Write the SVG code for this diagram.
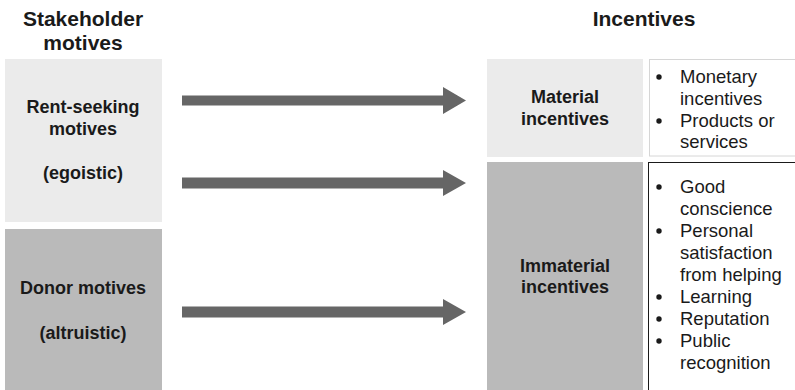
<svg xmlns="http://www.w3.org/2000/svg" width="795" height="390" viewBox="0 0 795 390">
  <style>
    .hdr { font-family: "Liberation Sans", Arial, sans-serif; font-weight: bold; font-size: 21px; fill: #1a1a1a; text-anchor: middle; }
    .lbl { font-family: "Liberation Sans", Arial, sans-serif; font-weight: bold; font-size: 18px; fill: #1a1a1a; text-anchor: middle; }
    .item { font-family: "Liberation Sans", Arial, sans-serif; font-size: 18.5px; fill: #1a1a1a; }
    .dot { fill: #1a1a1a; }
    .light { fill: #ebebeb; }
    .dark { fill: #bababa; }
    .arrow { fill: #666666; }
  </style>

  <rect width="795" height="390" fill="#ffffff"/>

  <!-- column headers -->
  <g id="header-motives">
    <text class="hdr" x="83" y="26">Stakeholder</text>
    <text class="hdr" x="83" y="50">motives</text>
  </g>
  <g id="header-incentives">
    <text class="hdr" x="644" y="26">Incentives</text>
  </g>

  <!-- motive boxes -->
  <g id="rent-seeking">
    <rect class="light" x="5" y="59" width="157" height="163"/>
    <text class="lbl" x="83" y="113">Rent-seeking</text>
    <text class="lbl" x="83" y="135">motives</text>
    <text class="lbl" x="83" y="179">(egoistic)</text>
  </g>
  <g id="donor">
    <rect class="dark" x="5" y="229" width="157" height="161"/>
    <text class="lbl" x="83" y="294">Donor motives</text>
    <text class="lbl" x="83" y="339">(altruistic)</text>
  </g>

  <!-- incentive boxes -->
  <g id="material">
    <rect class="light" x="487" y="59" width="156" height="98"/>
    <text class="lbl" x="565" y="103">Material</text>
    <text class="lbl" x="565" y="125">incentives</text>
  </g>
  <g id="material-list">
    <rect x="649.5" y="59.5" width="150" height="96.5" fill="#ffffff" stroke="#d6d6d6" stroke-width="1"/>
    <circle class="dot" cx="659" cy="77" r="2.7"/>
    <circle class="dot" cx="659" cy="121" r="2.7"/>
    <text class="item" x="680" y="83">Monetary</text>
    <text class="item" x="680" y="105">incentives</text>
    <text class="item" x="680" y="127">Products or</text>
    <text class="item" x="680" y="148">services</text>
  </g>
  <g id="immaterial">
    <rect class="dark" x="487" y="162" width="156" height="228"/>
    <text class="lbl" x="565" y="272">Immaterial</text>
    <text class="lbl" x="565" y="293">incentives</text>
  </g>
  <g id="immaterial-list">
    <rect x="648.5" y="162.5" width="150" height="240" fill="#ffffff" stroke="#1a1a1a" stroke-width="1"/>
    <circle class="dot" cx="659" cy="187" r="2.7"/>
    <circle class="dot" cx="659" cy="231" r="2.7"/>
    <circle class="dot" cx="659" cy="297" r="2.7"/>
    <circle class="dot" cx="659" cy="319" r="2.7"/>
    <circle class="dot" cx="659" cy="341" r="2.7"/>
    <text class="item" x="680" y="193">Good</text>
    <text class="item" x="680" y="215">conscience</text>
    <text class="item" x="680" y="237">Personal</text>
    <text class="item" x="680" y="259">satisfaction</text>
    <text class="item" x="680" y="281">from helping</text>
    <text class="item" x="680" y="303">Learning</text>
    <text class="item" x="680" y="325">Reputation</text>
    <text class="item" x="680" y="347">Public</text>
    <text class="item" x="680" y="369">recognition</text>
  </g>

  <!-- block arrows -->
  <g id="connectors">
    <path class="arrow" d="M182 95.5 H443 V87 L466 100.5 L443 114 V105.5 H182 Z"/>
    <path class="arrow" d="M182 177.5 H443 V170 L466 183 L443 196 V188.5 H182 Z"/>
    <path class="arrow" d="M182 306.5 H443 V299 L466 312 L443 325 V317.5 H182 Z"/>
  </g>
</svg>
